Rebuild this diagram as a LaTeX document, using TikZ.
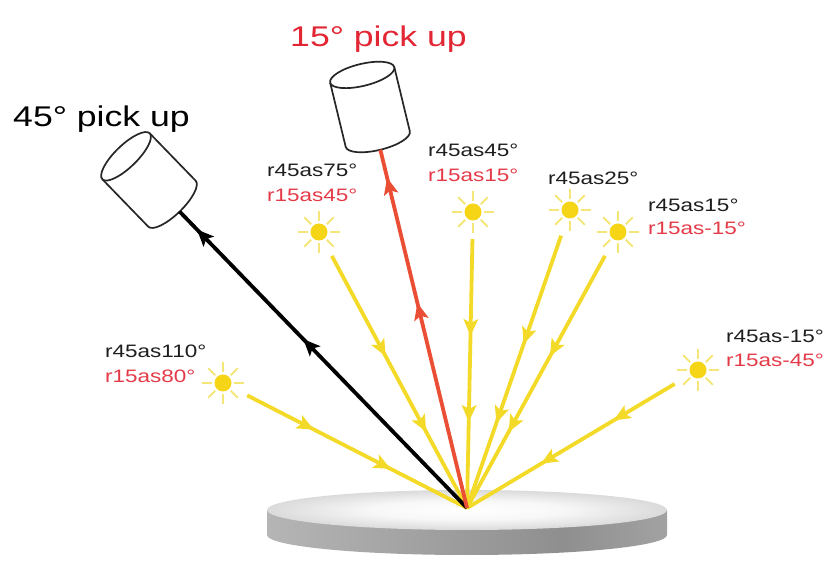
\documentclass[tikz,border=0pt]{standalone}
\usepackage{fontspec}
\setmainfont{Liberation Sans}[FakeStretch=1.25]
\usetikzlibrary{decorations.markings,calc}

\definecolor{rayyellow}{RGB}{243,218,40}
\definecolor{suncore}{RGB}{246,212,22}
\definecolor{sunglow}{RGB}{244,230,120}
\definecolor{beamred}{RGB}{234,78,52}
\definecolor{labelred}{RGB}{228,58,72}
\definecolor{titlered}{RGB}{226,38,52}
\definecolor{textdark}{RGB}{30,30,30}

% shading of the disc rim and top face
\pgfdeclarehorizontalshading{discside}{100bp}{color(0bp)=(gray!40); color(25bp)=(gray!58); color(62bp)=(gray!88); color(88bp)=(gray!58); color(100bp)=(gray!35)}
\pgfdeclareradialshading{disctop}{\pgfpoint{0bp}{0bp}}{color(0bp)=(white); color(12bp)=(gray!6); color(50bp)=(gray!72)}

\tikzset{
  sun/.style={circle, inner sep=0pt, minimum size=54pt, path picture={
      \foreach \a in {0,45,...,315}
        \draw[sunglow, line width=1.8pt]
          ($(path picture bounding box.center)+(\a:11)$) --
          ($(path picture bounding box.center)+(\a:21)$);
      \fill[suncore] (path picture bounding box.center) circle (8.5);
  }},
  % filled wedges pointing along the path
  midheads/.style 2 args={postaction={decorate}, decoration={markings,
      mark=at position #1 with {\fill (8pt,0pt) -- (-9pt,7.5pt) -- (-5pt,0pt) -- (-9pt,-7.5pt) -- cycle;},
      mark=at position #2 with {\fill (8pt,0pt) -- (-9pt,7.5pt) -- (-5pt,0pt) -- (-9pt,-7.5pt) -- cycle;}}},
  sunray/.style={color=rayyellow, line width=3.8pt},
  beam/.style={line width=3.8pt},
  camline/.style={draw=black!85, line width=1.7pt},
  lbl/.style={anchor=base west, inner sep=0pt, font=\fontsize{18}{20}\selectfont},
  title/.style={anchor=base west, inner sep=0pt, font=\fontsize{28.5}{32}\selectfont},
  camera/.pic={
    \draw[camline, fill=white] (-33,33) -- (-33,-33)
      arc[start angle=180, end angle=360, x radius=33, y radius=11] -- (33,33);
    \draw[camline, fill=white] (0,33) ellipse[x radius=33, y radius=11];
    \coordinate (-lens) at (0,-44);
  }
}

\begin{document}
\begin{tikzpicture}[x=1pt, y=1pt]
\useasboundingbox (0,0) rectangle (838,562);

% sample disc
\path[shade, shading=discside] (267,52) -- (267,27)
  arc[start angle=180, end angle=360, x radius=200, y radius=20] -- (667,52) -- cycle;
\path[shade, shading=disctop] (467,52) ellipse[x radius=200, y radius=20];
\coordinate (F) at (467,54);

% pick-up heads
\pic (c45) [shift={(149,382)}, rotate=44.1] {camera};
\pic (c15) [shift={(370,455)}, rotate=13.6] {camera};

% illumination sources
\node[sun] (s110) at (223,179) {};
\node[sun] (s75)  at (319,330) {};
\node[sun] (s45)  at (473,350) {};
\node[sun] (s25)  at (570,352) {};
\node[sun] (s15)  at (618,330) {};
\node[sun] (sm15) at (698,192) {};

% incident rays
\draw[sunray, midheads={0.27}{0.62}] (s110) -- (F);
\draw[sunray, midheads={0.37}{0.67}] (s75) -- (F);
\draw[sunray, midheads={0.33}{0.65}] (s45) -- (F);
\draw[sunray, midheads={0.37}{0.66}] (s25) -- (F);
\draw[sunray, midheads={0.37}{0.67}] (s15) -- (F);
\draw[sunray, midheads={0.26}{0.61}] (sm15) -- (F);

% reflected beams to the heads
\draw[beam, color=black, midheads={0.55}{0.92}] (F) -- (c45-lens);
\draw[beam, color=beamred, midheads={0.55}{0.9}] (F) -- (c15-lens);

% titles
\node[title, text=black] (t45) at (13,435) {45° pick up};
\node[title, text=titlered] (t15) at (290,515) {15° pick up};

% geometry labels
\node[lbl, text=textdark] (l110a) at (105,204.5) {r45as110°};
\node[lbl, text=labelred] (l110b) at (105,179.5) {r15as80°};
\node[lbl, text=textdark] (l75a) at (267,385) {r45as75°};
\node[lbl, text=labelred] (l75b) at (267,360) {r15as45°};
\node[lbl, text=textdark] (l45a) at (428,405) {r45as45°};
\node[lbl, text=labelred] (l45b) at (428,380) {r15as15°};
\node[lbl, text=textdark] (l25a) at (548,377) {r45as25°};
\node[lbl, text=textdark] (l15a) at (648,350) {r45as15°};
\node[lbl, text=labelred] (l15b) at (648,327) {r15as-15°};
\node[lbl, text=textdark] (lm15a) at (726,219) {r45as-15°};
\node[lbl, text=labelred] (lm15b) at (726,195) {r15as-45°};
\end{tikzpicture}
\end{document}
